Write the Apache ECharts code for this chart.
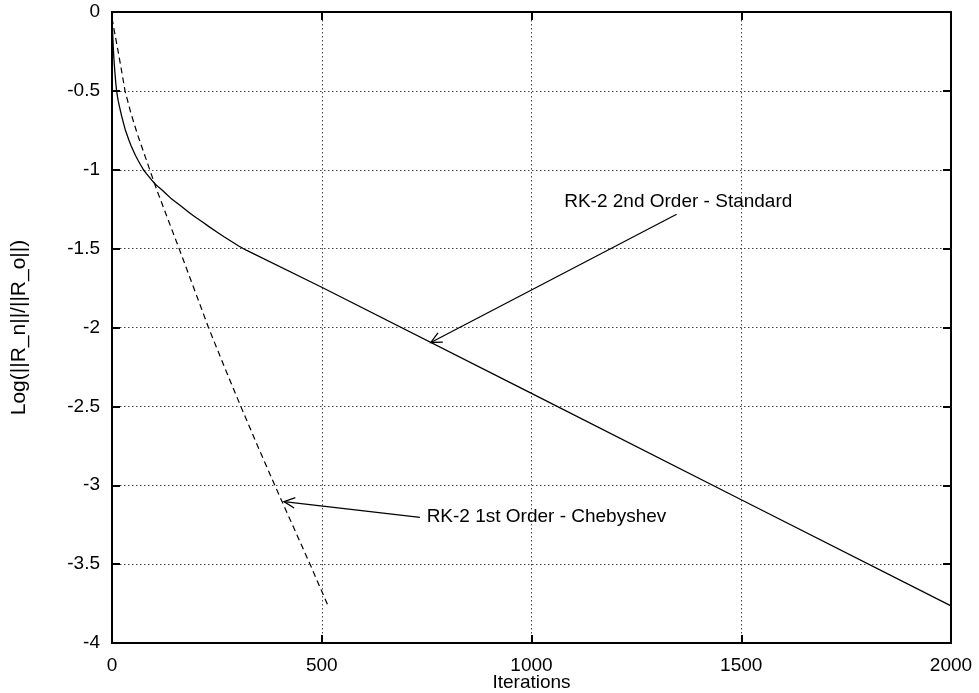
<!DOCTYPE html>
<html>
<head>
<meta charset="utf-8">
<script src="https://cdn.jsdelivr.net/npm/echarts@6/dist/echarts.min.js"></script>
<style>
  html, body { margin: 0; padding: 0; background: #fff; }
  #chart { width: 979px; height: 693px; }
</style>
</head>
<body>
<div id="chart"></div>
<script>
// Residual history: log10 of residual norm ratio vs. iteration count
const standardIter = [0, 1, 2, 3, 4, 5, 7, 9, 11, 13, 15, 17, 20, 23, 26, 29, 32, 36, 40, 45, 50, 56, 62, 68, 75, 82, 90, 96, 103, 111, 120, 130, 140, 151, 162, 174, 186, 200, 215, 232, 250, 267, 285, 302, 320, 500, 1000, 1500, 2000];
const standardLog  = [-0.04, -0.1, -0.16, -0.22, -0.27, -0.315, -0.385, -0.45, -0.5, -0.535, -0.565, -0.59, -0.625, -0.66, -0.69, -0.72, -0.75, -0.78, -0.81, -0.845, -0.875, -0.91, -0.94, -0.968, -1.0, -1.025, -1.05, -1.07, -1.09, -1.11, -1.13, -1.155, -1.18, -1.203, -1.225, -1.25, -1.276, -1.303, -1.33, -1.362, -1.395, -1.425, -1.455, -1.483, -1.51, -1.745, -2.418, -3.092, -3.765];

const chebIter = [0, 8, 16, 24, 31, 45, 60, 75, 90, 107, 125, 142, 160, 195, 230, 268, 307, 347, 388, 430, 472, 516];
const chebLog  = [-0.04, -0.155, -0.27, -0.39, -0.5, -0.64, -0.77, -0.885, -1.0, -1.13, -1.255, -1.375, -1.5, -1.75, -2.0, -2.25, -2.5, -2.75, -3.0, -3.25, -3.5, -3.77];

const xTicks = [0, 500, 1000, 1500, 2000];
const yTicks = [0, -0.5, -1, -1.5, -2, -2.5, -3, -3.5, -4];

// Curve annotations (data coordinates)
const noteText      = ['RK-2 2nd Order - Standard', 'RK-2 1st Order - Chebyshev'];
const noteTextAt    = [[1078, -1.2025], [750, -3.199]];
const noteArrowFrom = [[1346, -1.282], [734, -3.203]];
const noteArrowTo   = [[760, -2.095], [410, -3.104]];

const FONT = '"Liberation Sans", Arial, Helvetica, sans-serif';
const FS = 19;

const chart = echarts.init(document.getElementById('chart'), null, { renderer: 'canvas' });

const frameLine = { show: true, onZero: false, lineStyle: { color: '#000', width: 2 } };
const innerTick = { show: true, inside: true, length: 8, lineStyle: { color: '#000', width: 2 } };
const dotted = { show: true, lineStyle: { color: '#444', width: 1, type: [1.5, 2.5] } };
const plain = function (v) { return String(v); };

function zip(a, b) { return a.map((v, i) => [v, b[i]]); }

chart.setOption({
  animation: false,
  backgroundColor: '#fff',
  grid: { left: 112, right: 28, top: 12, bottom: 50, containLabel: false, outerBoundsMode: 'none' },
  xAxis: [
    {
      type: 'value', min: xTicks[0], max: xTicks[xTicks.length - 1], interval: 500,
      position: 'bottom',
      name: 'Iterations', nameLocation: 'middle', nameGap: 30, nameMoveOverlap: false,
      nameTextStyle: { color: '#000', fontSize: FS, fontFamily: FONT },
      axisLine: frameLine, axisTick: innerTick,
      axisLabel: { color: '#000', fontSize: FS, fontFamily: FONT, margin: 13, formatter: plain },
      splitLine: dotted
    },
    {
      type: 'value', min: xTicks[0], max: xTicks[xTicks.length - 1], interval: 500,
      position: 'top',
      axisLine: frameLine, axisTick: innerTick,
      axisLabel: { show: false }, splitLine: { show: false }
    }
  ],
  yAxis: [
    {
      type: 'value', min: yTicks[yTicks.length - 1], max: yTicks[0], interval: 0.5,
      position: 'left',
      name: 'Log(||R_n||/||R_o||)', nameLocation: 'middle', nameGap: 82, nameRotate: 90, nameMoveOverlap: false,
      nameTextStyle: { color: '#000', fontSize: 21, fontFamily: FONT },
      axisLine: frameLine, axisTick: innerTick,
      axisLabel: { color: '#000', fontSize: FS, fontFamily: FONT, margin: 12, formatter: plain },
      splitLine: dotted
    },
    {
      type: 'value', min: yTicks[yTicks.length - 1], max: yTicks[0], interval: 0.5,
      position: 'right',
      axisLine: frameLine, axisTick: innerTick,
      axisLabel: { show: false }, splitLine: { show: false }
    }
  ],
  series: [
    {
      name: 'RK-2 2nd Order - Standard',
      type: 'line', xAxisIndex: 0, yAxisIndex: 0,
      data: zip(standardIter, standardLog),
      showSymbol: false, smooth: false,
      lineStyle: { color: '#000', width: 1.3 }
    },
    {
      name: 'RK-2 1st Order - Chebyshev',
      type: 'line', xAxisIndex: 0, yAxisIndex: 0,
      data: zip(chebIter, chebLog),
      showSymbol: false, smooth: false,
      lineStyle: { color: '#000', width: 1.2, type: [6, 4] }
    },
    {
      type: 'custom', xAxisIndex: 0, yAxisIndex: 0,
      clip: false, silent: true,
      data: noteTextAt,
      renderItem: function (params, api) {
        const i = params.dataIndex;
        const t = api.coord(noteTextAt[i]);
        const a = api.coord(noteArrowFrom[i]);
        const b = api.coord(noteArrowTo[i]);
        const ang = Math.atan2(a[1] - b[1], a[0] - b[0]);
        const L = 12, th = 0.45;
        const h1 = [b[0] + L * Math.cos(ang + th), b[1] + L * Math.sin(ang + th)];
        const h2 = [b[0] + L * Math.cos(ang - th), b[1] + L * Math.sin(ang - th)];
        const stroke = { stroke: '#000', lineWidth: 1.3, fill: null };
        return {
          type: 'group',
          children: [
            { type: 'line', shape: { x1: a[0], y1: a[1], x2: b[0], y2: b[1] }, style: stroke },
            { type: 'polyline', shape: { points: [h1, b, h2] }, style: stroke },
            {
              type: 'text',
              style: {
                text: noteText[i], x: t[0], y: t[1],
                fill: '#000', fontSize: FS, fontFamily: FONT,
                align: 'left', verticalAlign: 'middle'
              }
            }
          ]
        };
      }
    }
  ]
});
</script>
</body>
</html>
